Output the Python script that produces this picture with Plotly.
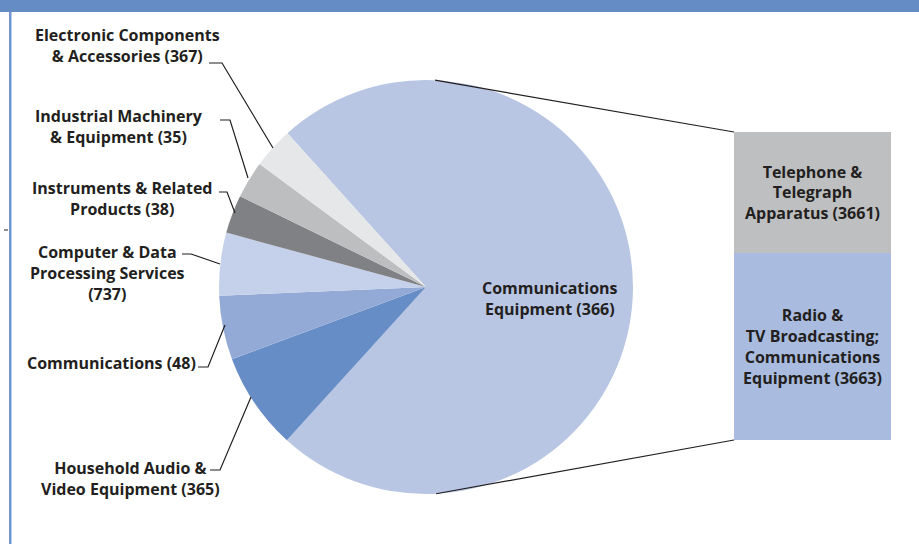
import math
import plotly.graph_objects as go

W, H = 919, 544

# ---------------- data ----------------
pie_labels = [
    "Communications Equipment (366)",
    "Household Audio & Video Equipment (365)",
    "Communications (48)",
    "Computer & Data Processing Services (737)",
    "Instruments & Related Products (38)",
    "Industrial Machinery & Equipment (35)",
    "Electronic Components & Accessories (367)",
]
pie_values = [73.4, 7.6, 5.0, 4.9, 3.0, 2.9, 3.2]
pie_colors = ["#B8C6E3", "#678DC6", "#93AAD6", "#C5D1EA", "#808184", "#BDBEC0", "#E6E7E8"]

bar_labels = ["Radio &<br>TV Broadcasting;<br>Communications<br>Equipment (3663)",
              "Telephone &<br>Telegraph<br>Apparatus (3661)"]
bar_values = [60.7, 39.3]
bar_colors = ["#A9BCDF", "#BEBFC1"]

# label texts shown at left (display form)
left_texts = [
    "Electronic Components<br>& Accessories (367)",
    "Industrial Machinery<br>& Equipment (35)",
    "Instruments & Related<br>Products (38)",
    "Computer & Data<br>Processing Services<br>(737)",
    "Communications (48)",
    "Household Audio &<br>Video Equipment (365)",
]
center_text = "Communications<br>Equipment (366)"

# ---------------- geometry (pixels) ----------------
cx, cy, R = 426, 287, 207
bar_x0, bar_x1, bar_top, bar_bot = 734, 891, 132, 440
TXT = "#231F20"
FONT = "Open Sans"
FS = 16

def px(x):
    return x / W

def py(y):
    return 1 - y / H

fig = go.Figure()

fig.add_trace(go.Pie(
    labels=pie_labels, values=pie_values, sort=False, direction="clockwise",
    rotation=-42, marker=dict(colors=pie_colors, line=dict(width=0)),
    textinfo="none", hoverinfo="label+percent", showlegend=False,
    domain=dict(x=[px(cx - R), px(cx + R)], y=[py(cy + R), py(cy - R)]),
))

for lab, val, col in zip(bar_labels, bar_values, bar_colors):
    fig.add_trace(go.Bar(
        x=[0], y=[val], width=1, marker=dict(color=col, line=dict(width=0)),
        text=[lab], textposition="inside", insidetextanchor="middle",
        textangle=0, textfont=dict(family=FONT, size=FS, color=TXT, weight="bold"),
        xaxis="x2", yaxis="y2", showlegend=False, hoverinfo="skip",
    ))

shapes = []
# header band and left rule
shapes.append(dict(type="rect", xref="paper", yref="paper", x0=0, x1=1,
                   y0=py(12), y1=1, fillcolor="#658CC4", line=dict(width=0), layer="below"))
shapes.append(dict(type="rect", xref="paper", yref="paper", x0=px(9), x1=px(11.5),
                   y0=0, y1=py(12), fillcolor="#7196CF", line=dict(width=0), layer="below"))
shapes.append(dict(type="line", xref="paper", yref="paper", x0=px(4), x1=px(8),
                   y0=py(230), y1=py(230), line=dict(color="#231F20", width=1)))

# connector lines from pie to the breakdown bar
for ang, (bx, by) in [(2.5, (bar_x0, bar_top)), (177.2, (bar_x0, bar_bot))]:
    a = math.radians(ang)
    sx, sy = cx + R * math.sin(a), cy - R * math.cos(a)
    shapes.append(dict(type="line", xref="paper", yref="paper", x0=px(sx), y0=py(sy),
                       x1=px(bx), y1=py(by), line=dict(color="#231F20", width=1.2)))

# leader lines (polyline points in px)
leaders = [
    [(209, 63), (222, 63), (273, 148)],
    [(220, 120), (230, 120), (248, 178)],
    [(219, 192), (227, 192), (235, 213)],
    [(182, 254), (191, 254), (220, 264)],
    [(198, 367), (208, 367), (225, 325)],
    [(210, 470), (220, 470), (251, 397)],
]
for pts in leaders:
    path = "M " + " L ".join(f"{px(x)},{py(y)}" for x, y in pts)
    shapes.append(dict(type="path", xref="paper", yref="paper", path=path,
                       line=dict(color="#231F20", width=1.2)))

annotations = []
left_pos = [(127, 45), (119, 127), (122, 198), (107, 273), (111, 363), (130, 478)]
for t, (x, y) in zip(left_texts, left_pos):
    annotations.append(dict(text=t, x=px(x), y=py(y), xref="paper", yref="paper",
                            showarrow=False, align="center", xanchor="center", yanchor="middle",
                            font=dict(family=FONT, size=FS, color=TXT, weight="bold")))
annotations.append(dict(text=center_text, x=px(550), y=py(298), xref="paper", yref="paper",
                        showarrow=False, align="center", xanchor="center", yanchor="middle",
                        font=dict(family=FONT, size=FS, color=TXT, weight="bold")))

fig.update_layout(
    width=W, height=H, margin=dict(l=0, r=0, t=0, b=0),
    paper_bgcolor="white", plot_bgcolor="white",
    barmode="stack", bargap=0,
    xaxis2=dict(domain=[px(bar_x0), px(bar_x1)], range=[-0.5, 0.5], visible=False,
                anchor="y2", fixedrange=True),
    yaxis2=dict(domain=[py(bar_bot), py(bar_top)], range=[0, sum(bar_values)], visible=False,
                anchor="x2", fixedrange=True),
    shapes=shapes, annotations=annotations,
    font=dict(family=FONT),
    uniformtext=dict(minsize=FS, mode="show"),
)

fig.write_html("out.html", post_script="document.body.style.margin='0';",
               config={"displayModeBar": False})
